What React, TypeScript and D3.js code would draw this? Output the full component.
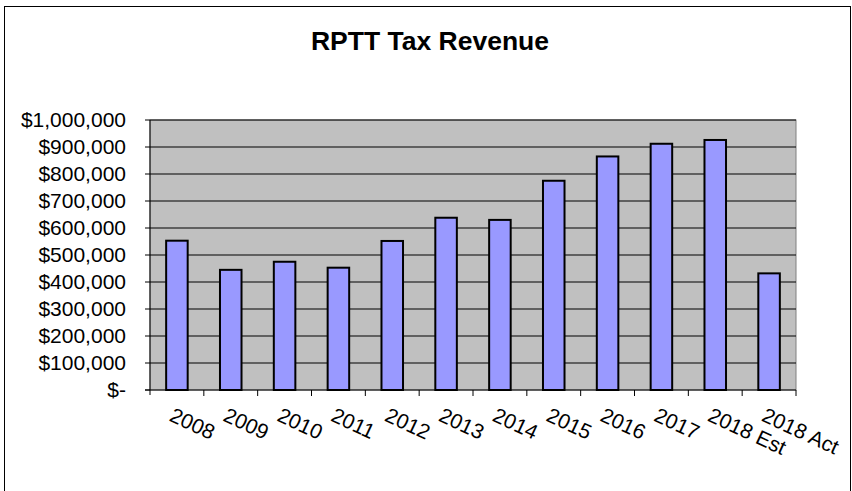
import React from "react";
import { scaleBand, scaleLinear, range } from "d3";

const categories = ["2008", "2009", "2010", "2011", "2012", "2013", "2014", "2015", "2016", "2017", "2018 Est", "2018 Act"];
const revenue = [553000, 445000, 475000, 453000, 552000, 638000, 630000, 775000, 865000, 912000, 926000, 432000];
const yTicks = range(0, 1000001, 100000);

const fmt = (v: number) => (v === 0 ? "$-" : "$" + v.toLocaleString("en-US"));

export default function App() {
  const width = 852;
  const height = 491;
  const left = 150;
  const right = 796;
  const top = 120;
  const bottom = 390;

  const x = scaleBand<string>().domain(categories).range([left, right]).paddingInner(0.6).paddingOuter(0.3);
  const band = scaleBand<string>().domain(categories).range([left, right]);
  const y = scaleLinear().domain([0, 1000000]).range([bottom, top]);

  const font = "Arial, 'Liberation Sans', sans-serif";

  return (
    <svg width={width} height={height} style={{ position: "absolute", left: 0, top: 0 }} fontFamily={font}>
      <rect x={0} y={0} width={width} height={height} fill="#fff" />
      <rect x={4.5} y={6.5} width={846} height={500} fill="none" stroke="#000" strokeWidth={1} />
      <text x={430} y={50} textAnchor="middle" fontSize={26.5} fontWeight="bold">
        RPTT Tax Revenue
      </text>

      <rect x={left} y={top} width={right - left} height={bottom - top} fill="#c0c0c0" stroke="#808080" strokeWidth={1} />

      {yTicks.map((t) => (
        <g key={t}>
          {t > 0 && <line x1={left} x2={right} y1={y(t)} y2={y(t)} stroke="#000" strokeWidth={1} />}
          <line x1={left - 5} x2={left} y1={y(t)} y2={y(t)} stroke="#000" />
          <text x={126} y={y(t)} dy="0.35em" textAnchor="end" fontSize={21}>
            {fmt(t)}
          </text>
        </g>
      ))}

      {revenue.map((v, i) => (
        <rect
          key={categories[i]}
          x={x(categories[i])}
          y={y(v)}
          width={x.bandwidth()}
          height={bottom - y(v)}
          fill="#9999ff"
          stroke="#000"
          strokeWidth={2}
        />
      ))}

      <line x1={left} x2={left} y1={top} y2={bottom + 5} stroke="#000" />
      <line x1={left - 5} x2={right} y1={bottom} y2={bottom} stroke="#000" />
      {categories.map((c) => (
        <line key={c} x1={(band(c) as number) + band.bandwidth()} x2={(band(c) as number) + band.bandwidth()} y1={bottom} y2={bottom + 6} stroke="#000" />
      ))}

      {categories.map((c) => {
        const cx = (band(c) as number) + band.bandwidth() / 2;
        return (
          <text key={c} transform={`translate(${cx - 2},${406}) rotate(25)`} dy="0.75em" fontSize={21}>
            {c}
          </text>
        );
      })}
    </svg>
  );
}
